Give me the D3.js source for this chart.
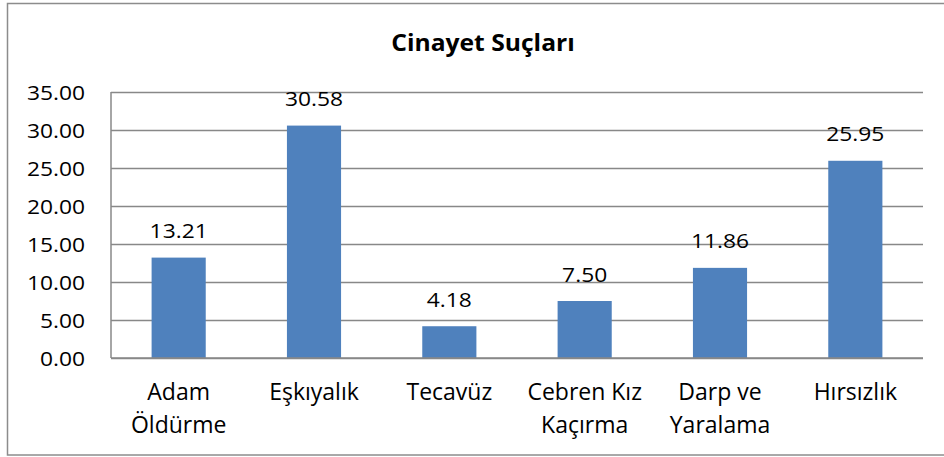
<!DOCTYPE html>
<html>
<head>
<meta charset="utf-8">
<script src="https://cdn.jsdelivr.net/npm/d3@7"></script>
<style>
  html, body { margin: 0; padding: 0; background: #fff; }
  svg { display: block; }
  text { font-family: "Open Sans", "Noto Sans", sans-serif; fill: #000; }
</style>
</head>
<body>
<svg id="chart" width="944" height="457"></svg>
<script>
// ---- data ----
const title = "Cinayet Suçları";
const categories = ["Adam Öldürme", "Eşkıyalık", "Tecavüz", "Cebren Kız Kaçırma", "Darp ve Yaralama", "Hırsızlık"];
const categoryLines = [["Adam", "Öldürme"], ["Eşkıyalık"], ["Tecavüz"], ["Cebren Kız", "Kaçırma"], ["Darp ve", "Yaralama"], ["Hırsızlık"]];
const values = [13.21, 30.58, 4.18, 7.50, 11.86, 25.95];
const yTicks = [0, 5, 10, 15, 20, 25, 30, 35];

// ---- layout ----
const W = 944, H = 457;
const plot = { left: 111, right: 923, top: 92, bottom: 358 };
const gridColor = "#888888";
const barColor = "#4F81BD";
const stretch = 1.14;

const svg = d3.select("#chart");
svg.append("rect").attr("x", 0).attr("y", 0).attr("width", W).attr("height", H).attr("fill", "#fff");

// outer chart border (right edge lies outside the view)
svg.append("rect")
  .attr("x", 7.5).attr("y", 3.5).attr("width", 952).attr("height", 451.5)
  .attr("fill", "none").attr("stroke", "#8c8c8c").attr("stroke-width", 1.5);

const x = d3.scaleBand().domain(categories).range([plot.left, plot.right]).padding(0);
const y = d3.scaleLinear().domain([0, 35]).range([plot.bottom, plot.top]);
const barW = x.bandwidth() * 0.4;

// gridlines + y axis labels
const yAxis = d3.axisLeft(y)
  .tickValues(yTicks)
  .tickSize(-(plot.right - plot.left))
  .tickFormat(d3.format(".2f"));

const gy = svg.append("g")
  .attr("transform", `translate(${plot.left},0)`)
  .call(yAxis);
gy.select(".domain").remove();
gy.selectAll(".tick line").attr("stroke", gridColor).attr("stroke-width", 1.5);
gy.selectAll(".tick text")
  .attr("x", 0)
  .attr("dy", "0.35em")
  .attr("transform", `translate(${85 - plot.left},0) scale(${stretch},1)`)
  .attr("text-anchor", "end")
  .style("font-family", "'Open Sans', sans-serif")
  .style("font-size", "20px")
  .attr("fill", "#000");

// left axis line
svg.append("line")
  .attr("x1", plot.left).attr("x2", plot.left)
  .attr("y1", y(35)).attr("y2", y(0))
  .attr("stroke", gridColor).attr("stroke-width", 1.5);

// bars
svg.append("g").selectAll("rect")
  .data(values)
  .join("rect")
  .attr("x", (d, i) => x(categories[i]) + (x.bandwidth() - barW) / 2)
  .attr("y", d => y(d))
  .attr("width", barW)
  .attr("height", d => y(0) - y(d))
  .attr("fill", barColor);

// baseline redraw on top
svg.append("line")
  .attr("x1", plot.left).attr("x2", plot.right)
  .attr("y1", y(0)).attr("y2", y(0))
  .attr("stroke", gridColor).attr("stroke-width", 1.5);

// value labels
svg.append("g").selectAll("text")
  .data(values)
  .join("text")
  .attr("transform", (d, i) => `translate(${x(categories[i]) + x.bandwidth() / 2},${y(d) - 19.5}) scale(${stretch},1)`)
  .attr("text-anchor", "middle")
  .style("font-size", "20px")
  .text(d => d3.format(".2f")(d));

// category labels
const cat = svg.append("g").selectAll("text")
  .data(categories)
  .join("text")
  .attr("text-anchor", "middle")
  .style("font-size", "23px")
  .attr("transform", d => `translate(${x(d) + x.bandwidth() / 2},${y(0) + 42})`);
cat.each(function (d, i) {
  d3.select(this).selectAll("tspan")
    .data(categoryLines[i])
    .join("tspan")
    .attr("x", 0)
    .attr("y", (t, j) => j * 32.5)
    .text(t => t);
});

// title
svg.append("text")
  .attr("transform", `translate(483,50.7) scale(1.1,1)`)
  .attr("text-anchor", "middle")
  .style("font-size", "22.4px")
  .style("font-weight", "bold")
  .text(title);
</script>
</body>
</html>
